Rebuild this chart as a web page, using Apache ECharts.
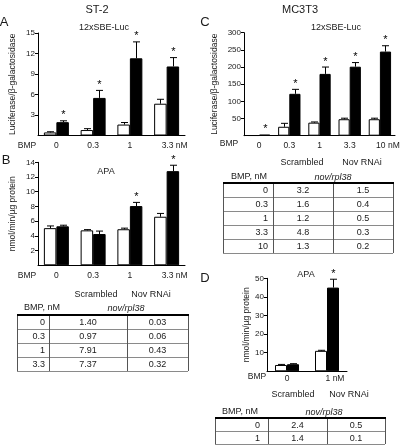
<!DOCTYPE html>
<html><head><meta charset="utf-8">
<script src="https://cdn.jsdelivr.net/npm/echarts@6/dist/echarts.min.js"></script>
<style>html,body{margin:0;padding:0;background:#fff}#c{width:400px;height:446px}</style>
</head><body><div id="c"></div>
<script>
// ---------- DATA ----------
const catsA = ['0', '0.3', '1', '3.3'];
const lucA_scr = [0.45, 0.8, 1.6, 4.65];
const lucA_scrErr = [0.1, 0.2, 0.3, 0.65];
const lucA_nov = [1.95, 5.5, 11.3, 10.1];
const lucA_novErr = [0.2, 1.1, 2.4, 1.3];
const lucA_sig = [1, 1, 1, 1];

const apaB_scr = [5.05, 4.75, 4.9, 6.6];
const apaB_scrErr = [0.3, 0.1, 0.15, 0.45];
const apaB_nov = [5.3, 4.25, 8.05, 12.8];
const apaB_novErr = [0.15, 0.4, 0.5, 0.8];
const apaB_sig = [0, 0, 1, 1];

const catsC = ['0', '0.3', '1', '3.3', '10'];
const lucC_scr = [1, 26, 38, 48, 48];
const lucC_scrErr = [0, 10, 2, 3, 3];
const lucC_nov = [3, 122, 180, 201, 245];
const lucC_novErr = [0, 13, 20, 12, 17];
const lucC_sig = [1, 1, 1, 1, 1];

const catsD = ['0', '1'];
const apaD_scr = [3.4, 11];
const apaD_scrErr = [0.3, 0.3];
const apaD_nov = [3.8, 45];
const apaD_novErr = [0.3, 4.5];
const apaD_sig = [0, 1];

const tabA_bmp = ['0', '0.3', '1', '3.3'];
const tabA_scr = ['1.40', '0.97', '7.91', '7.37'];
const tabA_nov = ['0.03', '0.06', '0.43', '0.32'];
const tabC_bmp = ['0', '0.3', '1', '3.3', '10'];
const tabC_scr = ['3.2', '1.6', '1.2', '4.8', '1.3'];
const tabC_nov = ['1.5', '0.4', '0.5', '0.3', '0.2'];
const tabD_bmp = ['0', '1'];
const tabD_scr = ['2.4', '1.4'];
const tabD_nov = ['0.5', '0.1'];

// ---------- STYLE / LAYOUT ----------
const FF = '"Liberation Sans", Arial, Helvetica, sans-serif';
const TXT = '#1a1a1a';
const chart = echarts.init(document.getElementById('c'), null, {renderer: 'canvas'});

const panels = [
  {cats: catsA, scr: lucA_scr, scrE: lucA_scrErr, nov: lucA_nov, novE: lucA_novErr, sig: lucA_sig,
   grid: {left: 38, top: 33, width: 147, height: 102.5}, max: 15, interval: 3, bw: 0.34,
   name: 'Luciferase/β-galactosidase', nameGap: 21, labMargin: 6},
  {cats: catsA, scr: apaB_scr, scrE: apaB_scrErr, nov: apaB_nov, novE: apaB_novErr, sig: apaB_sig,
   grid: {left: 38, top: 162.3, width: 147, height: 103}, max: 14, interval: 2, bw: 0.34,
   name: 'nmol/min/µg protein', nameGap: 21, labMargin: 6},
  {cats: catsC, scr: lucC_scr, scrE: lucC_scrErr, nov: lucC_nov, novE: lucC_novErr, sig: lucC_sig,
   grid: {left: 244, top: 32.7, width: 151, height: 103}, max: 300, interval: 50, bw: 0.37,
   name: 'Luciferase/β-galactosidase', nameGap: 25, labMargin: 5},
  {cats: catsD, scr: apaD_scr, scrE: apaD_scrErr, nov: apaD_nov, novE: apaD_novErr, sig: apaD_sig,
   grid: {left: 267, top: 278.3, width: 80, height: 93}, max: 50, interval: 10, bw: 0.30,
   name: 'nmol/min/µg protein', nameGap: 13, labMargin: 3}
];

function errRender(frac, side) {
  return function (params, api) {
    const ci = api.value(0), v = api.value(1), e = api.value(2), s = api.value(3);
    const band = api.size([1, 0])[0];
    const dx = side * band * frac / 2;
    const p0 = api.coord([ci, v]);
    const p1 = api.coord([ci, v + e]);
    const x = Math.round(p0[0] + dx) + 0.5;
    const ch = [];
    if (e > 0) {
      ch.push({type: 'line', shape: {x1: x, y1: p0[1], x2: x, y2: p1[1]}, style: {stroke: '#000', lineWidth: 1}});
      ch.push({type: 'line', shape: {x1: x - 3.5, y1: p1[1], x2: x + 3.5, y2: p1[1]}, style: {stroke: '#000', lineWidth: 1}});
    }
    if (s) {
      ch.push({type: 'text', x: x, y: p1[1] - 11, style: {text: '*', font: '11px ' + FF, fill: '#000', align: 'center', verticalAlign: 'top'}});
    }
    return {type: 'group', children: ch};
  };
}

const grids = [], xAxes = [], yAxes = [], series = [];
panels.forEach((p, k) => {
  grids.push(Object.assign({containLabel: false, outerBoundsMode: 'none'}, p.grid));
  const last = p.cats.length - 1;
  xAxes.push({
    type: 'category', gridIndex: k,
    data: p.cats.map((c, i) => i === last ? {value: c, textStyle: {padding: [0, 0, 0, 16]}} : c),
    axisLine: {show: true, lineStyle: {color: '#000', width: 1}},
    axisTick: {show: false},
    splitLine: {show: false},
    axisLabel: {color: TXT, fontSize: 8.5, fontFamily: FF, margin: p.labMargin, interval: 0,
      formatter: (v, i) => i === last ? v + ' nM' : v}
  });
  yAxes.push({
    type: 'value', gridIndex: k, min: 0, max: p.max, interval: p.interval,
    axisLine: {show: true, lineStyle: {color: '#000', width: 1}},
    axisTick: {show: true, length: 3, lineStyle: {color: '#000'}},
    splitLine: {show: false},
    axisLabel: {color: TXT, fontSize: 8, fontFamily: FF, margin: 3, showMinLabel: false},
    name: p.name, nameLocation: 'middle', nameRotate: 90, nameGap: p.nameGap,
    nameTextStyle: {color: TXT, fontSize: 8.5, fontFamily: FF}
  });
  series.push({
    type: 'bar', xAxisIndex: k, yAxisIndex: k, data: p.scr, barWidth: (p.bw * 100) + '%', barGap: '0%',
    itemStyle: {color: '#fff', borderColor: '#000', borderWidth: 1}, animation: false, silent: true
  });
  series.push({
    type: 'bar', xAxisIndex: k, yAxisIndex: k, data: p.nov, barWidth: (p.bw * 100) + '%', barGap: '0%',
    itemStyle: {color: '#000', borderColor: '#000', borderWidth: 1}, animation: false, silent: true
  });
  series.push({
    type: 'custom', xAxisIndex: k, yAxisIndex: k, renderItem: errRender(p.bw, -1),
    data: p.scr.map((v, i) => [i, v, p.scrE[i], 0]), encode: {x: 0, y: 1}, z: 5, animation: false, silent: true
  });
  series.push({
    type: 'custom', xAxisIndex: k, yAxisIndex: k, renderItem: errRender(p.bw, 1),
    data: p.nov.map((v, i) => [i, v, p.novE[i], p.sig[i]]), encode: {x: 0, y: 1}, z: 5, animation: false, silent: true
  });
});

function txt(text, x, y, size, extra) {
  return Object.assign({type: 'text', x: x, y: y, silent: true,
    style: Object.assign({text: text, font: size + 'px ' + FF, fill: TXT, align: 'center', verticalAlign: 'middle'}, extra || {})});
}

function table(cfg, bmp, scr, nov) {
  const g = [];
  const xs = cfg.xs, n = bmp.length, yT = cfg.yTop, rh = cfg.rowH;
  g.push(txt('Scrambled', cfg.scrX, cfg.h1, 9));
  g.push(txt('Nov RNAi', cfg.novX, cfg.h1, 9));
  g.push(txt('BMP, nM', cfg.bmpX, cfg.h2, 9));
  g.push(txt('nov/rpl38', cfg.geneX, cfg.h2, 9, {font: 'italic 9px ' + FF}));
  for (let i = 1; i <= n; i++) {
    const y = Math.round(yT + i * rh) + 0.5;
    g.push({type: 'line', silent: true, shape: {x1: xs[0], y1: y, x2: xs[3], y2: y}, style: {stroke: '#8a8a8a', lineWidth: 1}});
  }
  xs.forEach((x) => {
    g.push({type: 'line', silent: true, shape: {x1: x + 0.5, y1: yT, x2: x + 0.5, y2: yT + n * rh}, style: {stroke: '#555', lineWidth: 1}});
  });
  g.push({type: 'line', silent: true, shape: {x1: xs[0], y1: yT, x2: xs[3] + 1, y2: yT}, style: {stroke: '#000', lineWidth: 2}});
  for (let i = 0; i < n; i++) {
    const yc = yT + i * rh + rh / 2 + 1;
    g.push(txt(bmp[i], xs[1] - cfg.pad, yc, 9, {align: 'right'}));
    g.push(txt(scr[i], (xs[1] + xs[2]) / 2, yc, 9));
    g.push(txt(nov[i], (xs[2] + xs[3]) / 2, yc, 9));
  }
  return g;
}

const graphics = [
  txt('ST-2', 97, 10, 11),
  txt('MC3T3', 300, 10, 11),
  txt('A', 4, 22, 13),
  txt('B', 6, 160, 13),
  txt('C', 205, 22, 13),
  txt('D', 205, 278, 13),
  txt('12xSBE-Luc', 104, 28, 9),
  txt('12xSBE-Luc', 336, 28, 9),
  txt('APA', 106, 172, 9),
  txt('APA', 306, 275, 9),
  txt('BMP', 27, 146, 8.5),
  txt('BMP', 27, 276, 8.5),
  txt('BMP', 229, 144, 8.5),
  txt('BMP', 257, 377, 8.5)
].concat(
  table({xs: [17, 49, 127, 188], h1: 295, h2: 308, yTop: 315, rowH: 14, scrX: 96, novX: 151, bmpX: 42, geneX: 126, pad: 4},
    tabA_bmp, tabA_scr, tabA_nov),
  table({xs: [223, 273, 333, 393], h1: 163, h2: 177, yTop: 183, rowH: 14, scrX: 302, novX: 362, bmpX: 249, geneX: 333, pad: 5},
    tabC_bmp, tabC_scr, tabC_nov),
  table({xs: [215, 268, 327, 385], h1: 395, h2: 412, yTop: 418, rowH: 13, scrX: 293, novX: 349, bmpX: 240, geneX: 324, pad: 8},
    tabD_bmp, tabD_scr, tabD_nov)
);

chart.setOption({
  animation: false,
  backgroundColor: '#fff',
  grid: grids, xAxis: xAxes, yAxis: yAxes, series: series,
  graphic: graphics
});
</script></body></html>
